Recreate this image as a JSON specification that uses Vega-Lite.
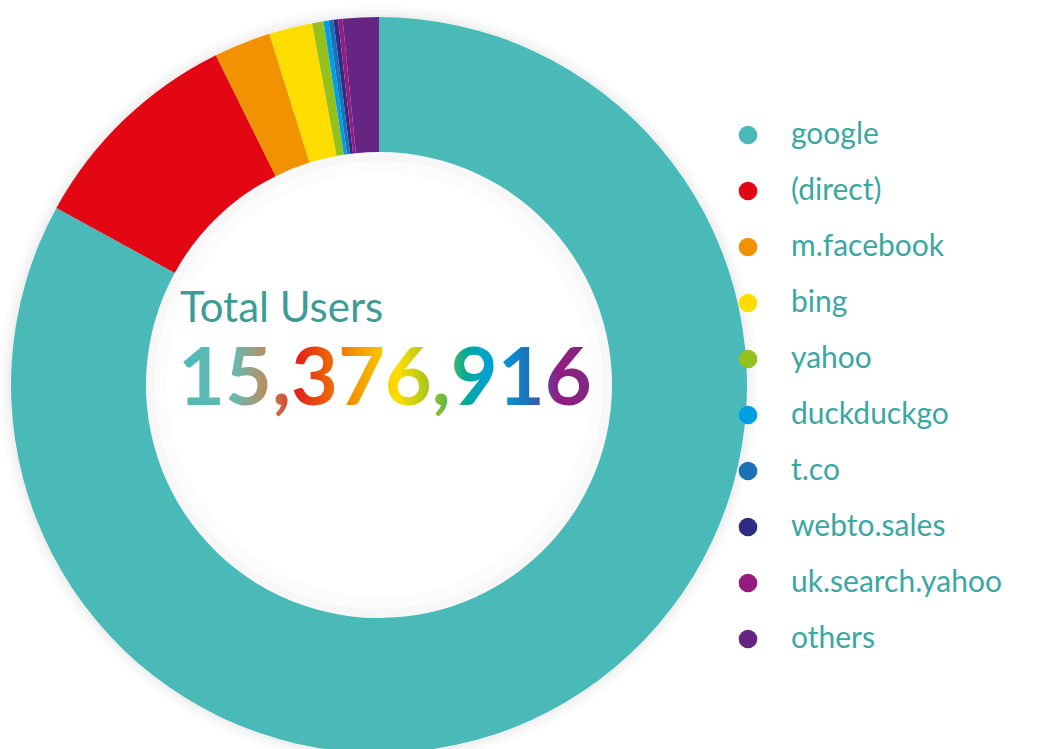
{
  "$schema": "https://vega.github.io/schema/vega-lite/v6.json",
  "width": 758,
  "height": 770,
  "padding": 0,
  "autosize": {"type": "pad"},
  "background": "white",
  "config": {
    "view": {"stroke": null},
    "legend": {
      "orient": "none",
      "legendX": 733,
      "legendY": 120,
      "symbolType": "circle",
      "symbolSize": 346,
      "symbolStrokeWidth": 0,
      "symbolOpacity": 1,
      "labelFont": "Lato",
      "labelFontSize": 30,
      "labelColor": "#3AA7A3",
      "labelOffset": 28,
      "rowPadding": 26,
      "labelLimit": 400
    }
  },
  "data": {
    "values": [
      {"source": "google", "users": 12760916},
      {"source": "(direct)", "users": 1492000},
      {"source": "m.facebook", "users": 384000},
      {"source": "bing", "users": 292000},
      {"source": "yahoo", "users": 77000},
      {"source": "duckduckgo", "users": 34000},
      {"source": "t.co", "users": 33000},
      {"source": "webto.sales", "users": 31000},
      {"source": "uk.search.yahoo", "users": 30000},
      {"source": "others", "users": 243000}
    ]
  },
  "layer": [
    {
      "mark": {"type": "arc", "radius": 379, "radius2": 368, "fill": "#000000", "opacity": 0.015},
      "encoding": {"theta": {"field": "users", "type": "quantitative", "stack": true}}
    },
    {
      "mark": {"type": "arc", "radius": 375, "radius2": 368, "fill": "#000000", "opacity": 0.02},
      "encoding": {"theta": {"field": "users", "type": "quantitative", "stack": true}}
    },
    {
      "mark": {"type": "arc", "radius": 371, "radius2": 368, "fill": "#000000", "opacity": 0.025},
      "encoding": {"theta": {"field": "users", "type": "quantitative", "stack": true}}
    },
    {
      "mark": {"type": "arc", "radius": 233, "radius2": 212, "fill": "#000000", "opacity": 0.012},
      "encoding": {"theta": {"field": "users", "type": "quantitative", "stack": true}}
    },
    {
      "mark": {"type": "arc", "radius": 233, "radius2": 224, "fill": "#000000", "opacity": 0.018},
      "encoding": {"theta": {"field": "users", "type": "quantitative", "stack": true}}
    },
    {
      "transform": [{"window": [{"op": "row_number", "as": "idx"}]}],
      "mark": {"type": "arc", "radius": 368, "radius2": 233, "stroke": null},
      "encoding": {
        "theta": {"field": "users", "type": "quantitative", "stack": true},
        "order": {"field": "idx", "type": "quantitative", "sort": "ascending"},
        "color": {
          "field": "source",
          "type": "nominal",
          "title": null,
          "sort": ["google", "(direct)", "m.facebook", "bing", "yahoo", "duckduckgo", "t.co", "webto.sales", "uk.search.yahoo", "others"],
          "scale": {
            "domain": ["google", "(direct)", "m.facebook", "bing", "yahoo", "duckduckgo", "t.co", "webto.sales", "uk.search.yahoo", "others"],
            "range": ["#4ABAB9", "#E30613", "#F39200", "#FFDD00", "#95C11F", "#009FE3", "#1D71B8", "#2D2E83", "#951B81", "#662483"]
          }
        }
      }
    },
    {
      "transform": [{"aggregate": [{"op": "sum", "field": "users", "as": "total"}]}],
      "mark": {"type": "text", "text": "Total Users", "font": "Lato", "fontSize": 42, "align": "left", "baseline": "alphabetic", "dx": -199, "dy": -63, "fill": "#3E9C98"}
    },
    {
      "transform": [{"aggregate": [{"op": "sum", "field": "users", "as": "total"}]}],
      "mark": {
        "type": "text",
        "font": "Lato",
        "fontWeight": "bold",
        "fontSize": 81,
        "align": "left",
        "baseline": "alphabetic",
        "dx": -201,
        "dy": 20,
        "fill": {
          "gradient": "linear",
          "x1": 0, "y1": 0, "x2": 1, "y2": 0,
          "stops": [
            {"offset": 0, "color": "#4ABAB9"},
            {"offset": 0.14, "color": "#6BB8AA"},
            {"offset": 0.22, "color": "#C4895A"},
            {"offset": 0.29, "color": "#E2231A"},
            {"offset": 0.42, "color": "#F39200"},
            {"offset": 0.53, "color": "#FFDD00"},
            {"offset": 0.62, "color": "#95C11F"},
            {"offset": 0.7, "color": "#00A9A0"},
            {"offset": 0.77, "color": "#009FE3"},
            {"offset": 0.85, "color": "#1D71B8"},
            {"offset": 0.92, "color": "#951B81"},
            {"offset": 1, "color": "#7B2C83"}
          ]
        }
      },
      "encoding": {"text": {"field": "total", "type": "quantitative", "format": ","}}
    }
  ]
}
